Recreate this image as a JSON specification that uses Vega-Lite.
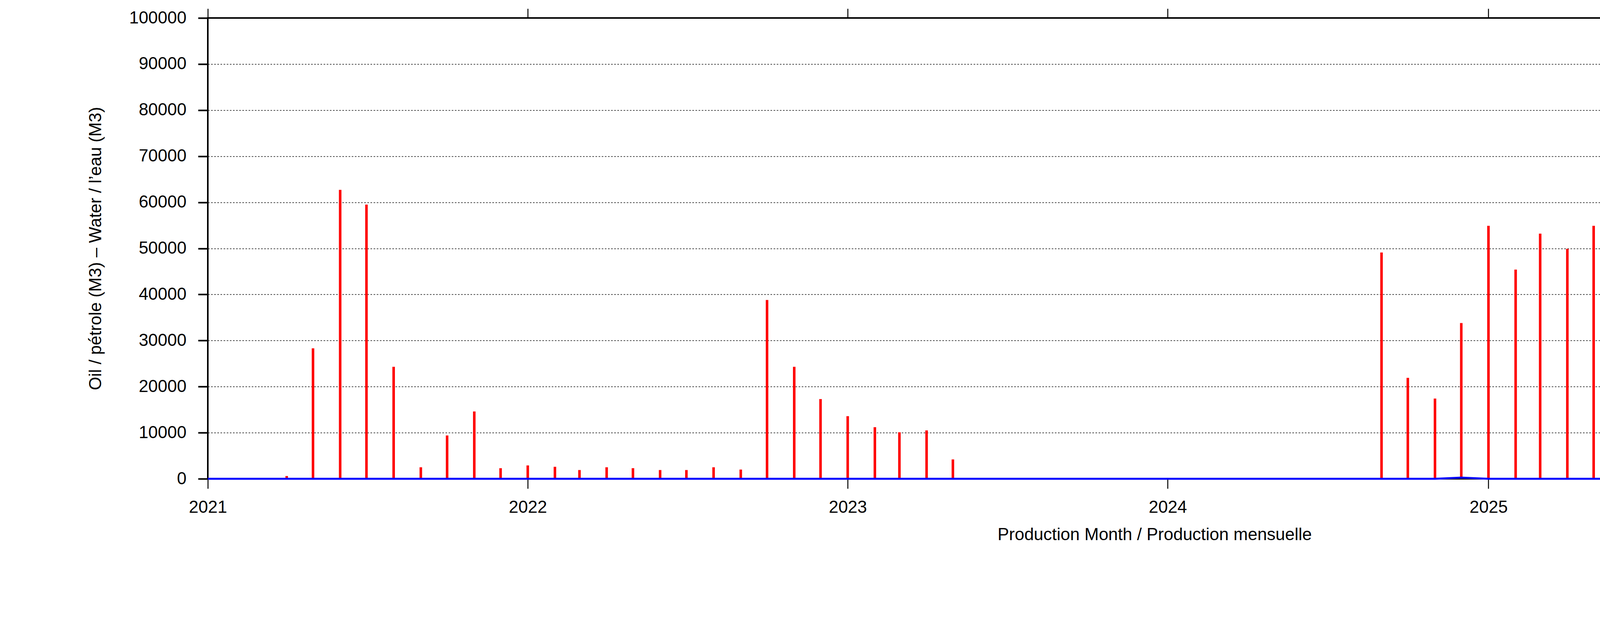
{
  "$schema": "https://vega.github.io/schema/vega-lite/v6.json",
  "description": "Monthly oil and water production (M3).",
  "width": 4847,
  "height": 1179,
  "autosize": {"type": "none"},
  "padding": {"left": 532, "top": 46, "right": 104, "bottom": 369},
  "background": "white",
  "config": {
    "font": "Liberation Sans",
    "view": {"stroke": "black", "strokeWidth": 4},
    "axis": {
      "labelFont": "Liberation Sans",
      "titleFont": "Liberation Sans",
      "labelFontSize": 44,
      "titleFontSize": 44,
      "titleFontWeight": "normal",
      "labelColor": "black",
      "titleColor": "black",
      "tickColor": "black",
      "domain": false
    },
    "legend": {
      "labelFont": "Liberation Sans",
      "labelFontSize": 44,
      "labelColor": "black"
    }
  },
  "data": {
    "values": [
      {"month": "2021-01-01", "oil": 0, "water": 0},
      {"month": "2021-02-01", "oil": 0, "water": 0},
      {"month": "2021-03-01", "oil": 0, "water": 0},
      {"month": "2021-04-01", "oil": 600, "water": 0},
      {"month": "2021-05-01", "oil": 28300, "water": 0},
      {"month": "2021-06-01", "oil": 62700, "water": 0},
      {"month": "2021-07-01", "oil": 59500, "water": 0},
      {"month": "2021-08-01", "oil": 24300, "water": 0},
      {"month": "2021-09-01", "oil": 2500, "water": 0},
      {"month": "2021-10-01", "oil": 9400, "water": 0},
      {"month": "2021-11-01", "oil": 14600, "water": 0},
      {"month": "2021-12-01", "oil": 2300, "water": 0},
      {"month": "2022-01-01", "oil": 2900, "water": 0},
      {"month": "2022-02-01", "oil": 2600, "water": 0},
      {"month": "2022-03-01", "oil": 1900, "water": 0},
      {"month": "2022-04-01", "oil": 2500, "water": 0},
      {"month": "2022-05-01", "oil": 2300, "water": 0},
      {"month": "2022-06-01", "oil": 1900, "water": 0},
      {"month": "2022-07-01", "oil": 1900, "water": 0},
      {"month": "2022-08-01", "oil": 2500, "water": 0},
      {"month": "2022-09-01", "oil": 2000, "water": 0},
      {"month": "2022-10-01", "oil": 38800, "water": 0},
      {"month": "2022-11-01", "oil": 24300, "water": 0},
      {"month": "2022-12-01", "oil": 17300, "water": 0},
      {"month": "2023-01-01", "oil": 13600, "water": 0},
      {"month": "2023-02-01", "oil": 11200, "water": 0},
      {"month": "2023-03-01", "oil": 10100, "water": 0},
      {"month": "2023-04-01", "oil": 10500, "water": 0},
      {"month": "2023-05-01", "oil": 4200, "water": 0},
      {"month": "2023-06-01", "oil": 0, "water": 0},
      {"month": "2023-07-01", "oil": 0, "water": 0},
      {"month": "2023-08-01", "oil": 0, "water": 0},
      {"month": "2023-09-01", "oil": 0, "water": 0},
      {"month": "2023-10-01", "oil": 0, "water": 0},
      {"month": "2023-11-01", "oil": 0, "water": 0},
      {"month": "2023-12-01", "oil": 0, "water": 0},
      {"month": "2024-01-01", "oil": 0, "water": 0},
      {"month": "2024-02-01", "oil": 0, "water": 0},
      {"month": "2024-03-01", "oil": 0, "water": 0},
      {"month": "2024-04-01", "oil": 0, "water": 0},
      {"month": "2024-05-01", "oil": 0, "water": 0},
      {"month": "2024-06-01", "oil": 0, "water": 0},
      {"month": "2024-07-01", "oil": 0, "water": 0},
      {"month": "2024-08-01", "oil": 0, "water": 0},
      {"month": "2024-09-01", "oil": 49100, "water": 0},
      {"month": "2024-10-01", "oil": 21900, "water": 0},
      {"month": "2024-11-01", "oil": 17400, "water": 0},
      {"month": "2024-12-01", "oil": 33800, "water": 250},
      {"month": "2025-01-01", "oil": 54900, "water": 0},
      {"month": "2025-02-01", "oil": 45400, "water": 0},
      {"month": "2025-03-01", "oil": 53200, "water": 0},
      {"month": "2025-04-01", "oil": 49900, "water": 0},
      {"month": "2025-05-01", "oil": 54900, "water": 0},
      {"month": "2025-06-01", "oil": 57700, "water": 0},
      {"month": "2025-07-01", "oil": 60000, "water": 0},
      {"month": "2025-08-01", "oil": 61000, "water": 0},
      {"month": "2025-09-01", "oil": 57300, "water": 0},
      {"month": "2025-10-01", "oil": 58300, "water": 0},
      {"month": "2025-11-01", "oil": 51100, "water": 1600},
      {"month": "2025-12-01", "oil": 74900, "water": 1800},
      {"month": "2026-01-01", "oil": 93300, "water": 100},
      {"month": "2026-02-01", "oil": 78200, "water": 5500},
      {"month": "2026-03-01", "oil": 80300, "water": 11700},
      {"month": "2026-04-01", "oil": 27900, "water": 22700},
      {"month": "2026-05-01", "oil": 19400, "water": 21300},
      {"month": "2026-06-01", "oil": 9700, "water": 25800},
      {"month": "2026-07-01", "oil": 0, "water": 0},
      {"month": "2026-08-01", "oil": 0, "water": 0},
      {"month": "2026-09-01", "oil": 0, "water": 0},
      {"month": "2026-10-01", "oil": 0, "water": 0},
      {"month": "2026-11-01", "oil": 0, "water": 0},
      {"month": "2026-12-01", "oil": 0, "water": 0}
    ]
  },
  "layer": [
    {
      "mark": {"type": "rule", "strokeWidth": 6.5, "strokeCap": "butt"},
      "encoding": {
        "x": {
          "field": "month",
          "type": "temporal",
          "scale": {"type": "utc", "domain": ["2021-01-01", "2026-12-01"]},
          "axis": {
            "orient": "bottom",
            "format": "%Y",
            "tickCount": {"interval": "year", "step": 1},
            "tickSize": 25,
            "tickWidth": 2.5,
            "labelPadding": 26,
            "labelFlush": false,
            "grid": false,
            "title": "Production Month / Production mensuelle",
            "titlePadding": 26
          }
        },
        "y": {
          "field": "oil",
          "type": "quantitative",
          "scale": {"domain": [0, 100000], "nice": false},
          "axis": {
            "orient": "left",
            "values": [0, 10000, 20000, 30000, 40000, 50000, 60000, 70000, 80000, 90000, 100000],
            "format": "d",
            "tickSize": 25,
            "tickWidth": 4,
            "labelPadding": 30,
            "labelFlush": false,
            "grid": true,
            "gridColor": "black",
            "gridWidth": 1.3,
            "gridDash": [4, 4],
            "title": "Oil / pétrole (M3)  –  Water / l’eau (M3)",
            "titlePadding": 65
          }
        },
        "y2": {"datum": 0},
        "color": {
          "datum": "oil / pétrole",
          "type": "nominal",
          "scale": {"domain": ["oil / pétrole", "water / l’eau"], "range": ["#ff0000", "#0000ff"]},
          "legend": {
            "orient": "none",
            "legendX": 4700,
            "legendY": 25,
            "title": null,
            "padding": 0,
            "symbolType": "M-4,0H4",
            "symbolSize": 1173,
            "symbolStrokeWidth": 6,
            "labelAlign": "right",
            "labelOffset": -120,
            "labelLimit": 600,
            "rowPadding": 3
          }
        }
      }
    },
    {
      "mark": {"type": "line", "strokeWidth": 5, "interpolate": "linear"},
      "encoding": {
        "x": {
          "field": "month",
          "type": "temporal",
          "axis": {
            "orient": "top",
            "labels": false,
            "tickCount": {"interval": "year", "step": 1},
            "tickSize": 24,
            "tickWidth": 2.5,
            "grid": false,
            "title": null
          }
        },
        "y": {
          "field": "water",
          "type": "quantitative",
          "axis": {
            "orient": "right",
            "labels": false,
            "values": [0, 10000, 20000, 30000, 40000, 50000, 60000, 70000, 80000, 90000, 100000],
            "tickSize": 25,
            "tickWidth": 4,
            "grid": false,
            "title": null
          }
        },
        "color": {"datum": "water / l’eau", "type": "nominal"}
      }
    }
  ],
  "resolve": {"axis": {"x": "independent", "y": "independent"}}
}
